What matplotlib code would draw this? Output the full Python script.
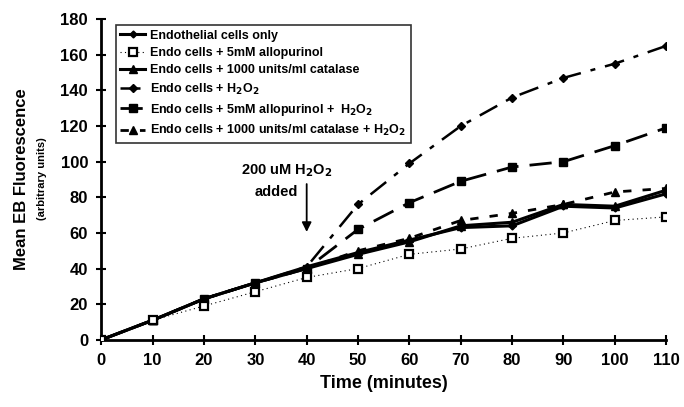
import matplotlib
matplotlib.use("Agg")
import matplotlib.pyplot as plt

plt.rcParams["font.family"] = ["Liberation Sans", "DejaVu Sans"]
plt.rcParams["font.weight"] = "bold"

# Data
time = [0, 10, 20, 30, 40, 50, 60, 70, 80, 90, 100, 110]
endo_only = [0, 11, 23, 32, 41, 49, 56, 63, 64, 75, 74, 82]
endo_allo = [0, 11, 19, 27, 35, 40, 48, 51, 57, 60, 67, 69]
endo_cat = [0, 11, 23, 32, 40, 48, 55, 64, 66, 76, 75, 84]
endo_h2o2 = [0, 11, 23, 32, 41, 76, 99, 120, 136, 147, 155, 165]
endo_allo_h2o2 = [0, 11, 23, 32, 40, 62, 77, 89, 97, 100, 109, 119]
endo_cat_h2o2 = [0, 11, 23, 32, 40, 50, 57, 67, 71, 76, 83, 85]

labels = [
    "Endothelial cells only",
    "Endo cells + 5mM allopurinol",
    "Endo cells + 1000 units/ml catalase",
    "Endo cells + H$_2$O$_2$",
    "Endo cells + 5mM allopurinol +  H$_2$O$_2$",
    "Endo cells + 1000 units/ml catalase + H$_2$O$_2$",
]

fig = plt.figure(figsize=(6.84, 4.07), dpi=100)
ax = fig.add_axes([0.148, 0.165, 0.826, 0.788])

ax.plot(time, endo_only, color="black", lw=2.2, marker="D", ms=3.5,
        label=labels[0], zorder=4)
ax.plot(time, endo_allo, color="black", lw=0.8, ls=(0, (1, 3)), marker="s",
        ms=6, mfc="white", mec="black", mew=1.6, label=labels[1], zorder=5)
ax.plot(time, endo_cat, color="black", lw=2.2, marker="^", ms=5.5,
        label=labels[2], zorder=4)
ax.plot(time, endo_h2o2, color="black", lw=1.8, ls=(0, (8, 4, 2, 4)),
        marker="D", ms=4.5, label=labels[3], zorder=3)
ax.plot(time, endo_allo_h2o2, color="black", lw=2.0, ls=(0, (8, 4)),
        marker="s", ms=5.5, label=labels[4], zorder=3)
ax.plot(time, endo_cat_h2o2, color="black", lw=2.0, ls=(0, (3, 4)),
        marker="^", ms=5.5, label=labels[5], zorder=3)

ax.set_xlim(0, 110)
ax.set_ylim(0, 180)
ax.set_xticks(time)
ax.set_yticks(range(0, 181, 20))
ax.tick_params(direction="inout", length=7, width=1.5, labelsize=12, pad=6)
for lab in ax.get_xticklabels() + ax.get_yticklabels():
    lab.set_fontweight("bold")
ax.spines["top"].set_visible(False)
ax.spines["right"].set_visible(False)
ax.spines["left"].set_linewidth(2)
ax.spines["bottom"].set_linewidth(2)

ax.set_xlabel("Time (minutes)", fontsize=13, fontweight="bold", labelpad=5)
fig.text(0.032, 0.56, "Mean EB Fluorescence", rotation=90, fontsize=12,
         fontweight="bold", ha="center", va="center")
fig.text(0.062, 0.56, "(arbitrary units)", rotation=90, fontsize=8,
         fontweight="bold", ha="center", va="center")

ax.annotate("", xy=(40, 59), xytext=(40, 89),
            arrowprops=dict(arrowstyle="-|>", color="black", lw=1.3,
                            mutation_scale=14))
ax.text(36.2, 95, "200 uM H$_2$O$_2$", fontsize=10.5, fontweight="bold",
        ha="center", va="center")
ax.text(34, 83, "added", fontsize=10.5, fontweight="bold",
        ha="center", va="center")

leg = ax.legend(loc="upper left", bbox_to_anchor=(0.015, 1.0), fontsize=9,
                frameon=True, fancybox=False, edgecolor="black",
                handlelength=2.0, handletextpad=0.4, borderpad=0.35,
                labelspacing=0.42)
leg.get_frame().set_linewidth(1.2)
for t in leg.get_texts():
    t.set_fontweight("bold")

fig.savefig("out.png", dpi=100)
